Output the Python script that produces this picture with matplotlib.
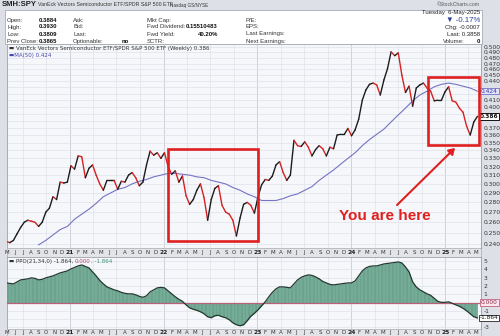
import matplotlib
matplotlib.use("Agg")
import matplotlib.pyplot as plt
import matplotlib.dates as mdates
from matplotlib.collections import LineCollection
from matplotlib.patches import Rectangle, FancyArrowPatch
from matplotlib.ticker import NullLocator, FixedFormatter, FixedLocator
import numpy as np
import pandas as pd

# SMH:SPY ratio, closes every two weeks (2020-04-28 .. 2025-05-06)
price = [
    0.242, 0.241, 0.243, 0.249, 0.255, 0.260, 0.262, 0.261, 0.260, 0.256,
    0.260, 0.270, 0.274, 0.286, 0.283, 0.302, 0.301, 0.302, 0.321, 0.317,
    0.333, 0.332, 0.307, 0.318, 0.322, 0.310, 0.300, 0.293, 0.304, 0.304,
    0.304, 0.294, 0.303, 0.302, 0.310, 0.313, 0.307, 0.298, 0.302, 0.322,
    0.339, 0.334, 0.337, 0.330, 0.337, 0.320, 0.311, 0.315, 0.302, 0.309,
    0.287, 0.278, 0.283, 0.293, 0.300, 0.285, 0.262, 0.283, 0.295, 0.298,
    0.277, 0.270, 0.268, 0.262, 0.247, 0.264, 0.278, 0.280, 0.277, 0.269,
    0.286, 0.299, 0.305, 0.304, 0.309, 0.322, 0.326, 0.313, 0.304, 0.310,
    0.353, 0.346, 0.345, 0.351, 0.344, 0.333, 0.341, 0.346, 0.342, 0.333,
    0.344, 0.342, 0.360, 0.361, 0.361, 0.369, 0.359, 0.367, 0.382, 0.410,
    0.426, 0.435, 0.437, 0.434, 0.418, 0.442, 0.461, 0.491, 0.484, 0.489,
    0.450, 0.422, 0.432, 0.401, 0.429, 0.434, 0.437, 0.429, 0.424, 0.409,
    0.410, 0.410, 0.423, 0.431, 0.409, 0.407, 0.398, 0.392, 0.372, 0.360,
    0.378, 0.386,
]

# 50-week moving average, every four weeks (starts at the 10th close)
ma50 = [
    0.239, 0.243, 0.248, 0.253, 0.256, 0.263, 0.268, 0.273, 0.279, 0.286,
    0.290, 0.294, 0.296, 0.300, 0.303, 0.305, 0.308, 0.310, 0.312, 0.312,
    0.311, 0.310, 0.308, 0.307, 0.304, 0.302, 0.300, 0.296, 0.293, 0.289,
    0.286, 0.282, 0.282, 0.282, 0.284, 0.287, 0.289, 0.293, 0.297, 0.304,
    0.310, 0.316, 0.323, 0.330, 0.337, 0.346, 0.354, 0.361, 0.368, 0.378,
    0.388, 0.398, 0.409, 0.418, 0.424, 0.431, 0.435, 0.437, 0.435, 0.432,
    0.429, 0.424,
]

# PPO(21,34,0), same dates as price
ppo = [
    2.37, 2.31, 2.25, 2.49, 2.73, 2.80, 2.86, 2.98, 2.92, 2.73,
    2.80, 2.98, 3.10, 3.22, 3.40, 3.58, 3.70, 3.82, 4.06, 4.24,
    4.42, 4.54, 4.36, 4.18, 3.70, 3.22, 2.67, 2.25, 1.89, 1.71,
    1.53, 1.41, 1.23, 1.11, 1.05, 1.05, 0.93, 0.75, 0.63, 0.81,
    1.29, 1.53, 1.77, 1.83, 1.77, 1.41, 1.05, 0.69, 0.39, 0.14,
    -0.28, -0.64, -0.82, -0.94, -1.12, -1.36, -1.72, -1.84, -1.60, -1.54,
    -1.72, -1.84, -2.08, -2.45, -2.69, -2.81, -2.69, -2.20, -1.66, -1.30,
    -0.88, -0.40, 0.08, 0.69, 1.23, 1.65, 1.89, 1.89, 1.83, 1.77,
    2.25, 2.73, 3.04, 3.22, 3.34, 3.28, 3.10, 2.86, 2.55, 2.37,
    2.19, 2.13, 2.19, 2.25, 2.31, 2.37, 2.37, 2.61, 3.22, 3.82,
    4.18, 4.36, 4.42, 4.42, 4.54, 4.66, 4.72, 4.78, 4.84, 4.90,
    4.78, 4.30, 3.70, 2.49, 1.89, 1.53, 1.29, 1.05, 0.87, 0.51,
    0.14, 0.02, 0.02, 0.08, -0.10, -0.28, -0.46, -0.70, -1.00, -1.36,
    -1.72, -1.864,
]

price_ticks = [round(0.24 + 0.01 * k, 3) for k in range(27)]
hidden_price_ticks = [0.38, 0.39, 0.42, 0.43]   # sit under the value boxes
ppo_ticks = [-3, -2, -1, 0, 1, 2, 3, 4, 5]
ppo_tick_labels = ["-3", "", "-1", "", "1", "2", "3", "4", "5"]

dates = pd.date_range(end="2025-05-06", periods=len(price), freq="14D")
ma_dates = dates[9::2]

W, H = 500, 336
BG = "#dde1e7"
PLOT_BG = "#f6f7fa"
GRID = "#dfe2ea"
SANS = ["Liberation Sans", "DejaVu Sans"]


def rect(l, t, r, b):
    return [l / W, 1 - b / H, (r - l) / W, (b - t) / H]


def ftext(px, py, s, **kw):
    kw.setdefault("va", "center")
    kw.setdefault("family", SANS)
    return fig.text(px / W, 1 - py / H, s, **kw)


fig = plt.figure(figsize=(5, 3.36), dpi=100, facecolor=BG)

# ---- header -------------------------------------------------------------
fig.add_artist(Rectangle((5 / W, 1 - 44 / H), 477 / W, 34 / H, transform=fig.transFigure,
                         facecolor="white", edgecolor="#9aa0aa", lw=0.5))
ftext(2, 5, "SMH:SPY", fontsize=5.6, weight="bold", color="#222")
ftext(38, 5, "VanEck Vectors Semiconductor ETF/SPDR S&P 500 ETF", fontsize=3.8, color="#333")
ftext(170, 5, "Nasdaq GS/NYSE", fontsize=3.3, color="#333")
ftext(480, 5, "©StockCharts.com", fontsize=3.7, color="#555", ha="right")

rows_y = [20.5, 27, 34, 41.5]
for y, lab, val in zip(rows_y, ["Open:", "High:", "Low:", "Prev Close:"],
                       ["0.3884", "0.3930", "0.3809", "0.3865"]):
    ftext(7, y, lab, fontsize=4.3, color="#333")
    ftext(57, y, val, fontsize=4.3, color="#111", weight="bold", ha="right")
for y, lab in zip(rows_y, ["Ask:", "Bid:", "Last:", "Optionable:"]):
    ftext(73, y, lab, fontsize=4.3, color="#333")
ftext(129, 41.5, "no", fontsize=4.3, weight="bold", ha="right", color="#111")
for y, lab in zip(rows_y, ["Mkt Cap:", "Fwd Dividend:", "Fwd Yield:", "SCTR:"]):
    ftext(147, y, lab, fontsize=4.3, color="#333")
ftext(218, 27, "0.15510483", fontsize=4.3, weight="bold", ha="right", color="#111")
ftext(218, 34, "40.20%", fontsize=4.3, weight="bold", ha="right", color="#111")
for y, lab in zip(rows_y, ["P/E:", "EPS:", "Last Earnings:", "Next Earnings:"]):
    ftext(246, y, lab, fontsize=4.3, color="#333")

ftext(480, 12.5, "Tuesday  6-May-2025", fontsize=4.3, ha="right", color="#222")
ftext(480, 20, "▼ -0.17%", fontsize=5.6, ha="right", color="#2a3f9a")
ftext(480, 27, "Chg: -0.0007", fontsize=4.3, ha="right", color="#222")
ftext(480, 34, "Last: 0.3858", fontsize=4.3, ha="right", color="#222")
ftext(443, 41.5, "Volume:", fontsize=4.3, color="#333")
ftext(480, 41.5, "0", fontsize=4.3, ha="right", weight="bold", color="#111")

# ---- axes ---------------------------------------------------------------
ax = fig.add_axes(rect(7, 44, 481, 248))
ax_d1 = fig.add_axes(rect(7, 248, 481, 257), sharex=ax)
ax_p = fig.add_axes(rect(7, 257, 481, 329), sharex=ax)
ax_d2 = fig.add_axes(rect(7, 329, 481, 336), sharex=ax)

x0, x1 = pd.Timestamp("2020-05-01"), pd.Timestamp("2025-05-20")
years = pd.date_range("2021-01-01", "2025-01-01", freq="YS")
quarters = pd.date_range("2020-07-01", "2025-04-01", freq="QS")

for a in (ax, ax_p):
    a.set_facecolor(PLOT_BG)
    a.set_xticks(years)
    a.set_xticks(quarters, minor=True)
    a.grid(True, which="minor", axis="x", color=GRID, lw=0.5)
    a.grid(True, which="major", axis="x", color="#c9cdd6", lw=0.6)
    a.grid(True, which="major", axis="y", color=GRID, lw=0.5)
    a.set_axisbelow(True)
    a.tick_params(axis="x", which="both", length=0, labelbottom=False)
    for s in a.spines.values():
        s.set_color("#8a9099")
        s.set_linewidth(0.5)
ax.set_xlim(x0, x1)

# main panel
ax.set_yscale("log")
ax.set_ylim(0.2362, 0.5056)
ax.yaxis.set_major_locator(FixedLocator(price_ticks))
ax.yaxis.set_major_formatter(FixedFormatter(
    ["" if v in hidden_price_ticks else f"{v:.3f}" for v in price_ticks]))
ax.yaxis.set_minor_locator(NullLocator())
ax.yaxis.tick_right()
ax.tick_params(axis="y", length=0, pad=2, labelsize=4.3, labelcolor="#333")

ax.plot(ma_dates, ma50, color="#7474c4", lw=0.8, zorder=2)
xs = mdates.date2num(dates)
pts = np.column_stack([xs, price])
segs = np.stack([pts[:-1], pts[1:]], axis=1)
cols = ["#1c1c1c" if b >= a else "#d42222" for a, b in zip(price[:-1], price[1:])]
ax.add_collection(LineCollection(segs, colors=cols, linewidths=1.0,
                                 capstyle="round", joinstyle="round", zorder=3))

ax.text(0.004, 0.992, "▬ VanEck Vectors Semiconductor ETF/SPDR S&P 500 ETF (Weekly) 0.386",
        transform=ax.transAxes, fontsize=4.0, va="top", color="#333", family="DejaVu Sans")
ax.text(0.004, 0.957, "▬MA(50) 0.424", transform=ax.transAxes, fontsize=4.0, va="top",
        color="#4646b0", family="DejaVu Sans")

# value boxes on the right axis, right-aligned so they stay inside the figure
xr = (498 - 7) / 474
yt = ax.get_yaxis_transform()
ax.text(xr, ma50[-1], f"{ma50[-1]:.3f}", transform=yt, fontsize=4.2, va="center", ha="right",
        color="#3535a8", clip_on=False,
        bbox=dict(boxstyle="square,pad=0.12", fc="#e4e4f7", ec="#5a5ac4", lw=0.5))
ax.text(xr, price[-1], f"{price[-1]:.3f}", transform=yt, fontsize=4.2, va="center", ha="right",
        color="#111", weight="bold", clip_on=False,
        bbox=dict(boxstyle="square,pad=0.12", fc="white", ec="#111", lw=0.7))

# annotations
red = "#e02020"
for bx0, by0, bx1, by1 in [(0.3403, 0.0343, 0.5302, 0.4853), (0.8888, 0.5049, 0.9964, 0.8397)]:
    ax.add_patch(Rectangle((bx0, by0), bx1 - bx0, by1 - by0, transform=ax.transAxes,
                           fill=False, ec=red, lw=1.9, zorder=5))
ax.add_patch(FancyArrowPatch((0.8186, 0.201), (0.9494, 0.50), transform=ax.transAxes,
                             arrowstyle="-|>,head_length=3.5,head_width=2.2",
                             color=red, lw=1.5, zorder=5))
ax.text(0.7975, 0.157, "You are here", transform=ax.transAxes, ha="center", va="center",
        fontsize=11, weight="bold", color=red, family=SANS, zorder=6)

# PPO panel
ax_p.set_ylim(-3.2, 5.5)
ax_p.yaxis.set_major_locator(FixedLocator(ppo_ticks))
ax_p.yaxis.set_major_formatter(FixedFormatter(ppo_tick_labels))
ax_p.yaxis.tick_right()
ax_p.tick_params(axis="y", length=0, pad=2, labelsize=4.3, labelcolor="#333")
ax_p.fill_between(dates, ppo, 0, color="#6aa38e", lw=0, zorder=2)
ax_p.vlines(dates, 0, ppo, color="#9fc8b8", lw=0.35, zorder=2)
ax_p.axhline(0, color="#b86078", lw=0.9, zorder=3)
ax_p.plot(dates, ppo, color="#23382f", lw=0.9, zorder=4)

pt = ax_p.get_yaxis_transform()
ax_p.text(xr, 0, "0.000", transform=pt, fontsize=4.2, va="center", ha="right", color="#8a2a48",
          clip_on=False, bbox=dict(boxstyle="square,pad=0.12", fc="#fae6ec", ec="#c06080", lw=0.6))
ax_p.text(xr, ppo[-1], f"{ppo[-1]:.3f}", transform=pt, fontsize=4.2, va="center", ha="right",
          color="#111", clip_on=False,
          bbox=dict(boxstyle="square,pad=0.12", fc="white", ec="#222", lw=0.6))

t1 = ax_p.text(0.004, 0.97, "▬ PPO(21,34,0) -1.864, ", transform=ax_p.transAxes, fontsize=4.0,
               va="top", color="#333", family="DejaVu Sans")
t2 = ax_p.annotate("0.000", xy=(1, 0), xycoords=t1, va="bottom", fontsize=4.0,
                   color="#b04060", family="DejaVu Sans")
ax_p.annotate(", -1.864", xy=(1, 0), xycoords=t2, va="bottom", fontsize=4.0,
              color="#3f8f75", family="DejaVu Sans")

# date strips
months = pd.date_range("2020-05-01", "2025-05-01", freq="MS")
for a in (ax_d1, ax_d2):
    a.set_facecolor("#e3e4e7")
    a.set_ylim(0, 1)
    a.set_yticks([])
    a.tick_params(axis="x", which="both", length=0, labelbottom=False)
    for s in a.spines.values():
        s.set_color("#9a9fa8")
        s.set_linewidth(0.4)
    for m in months:
        if m.month == 1:
            a.text(m, 0.45, f"{m.year % 100:02d}", ha="center", va="center", fontsize=4.3,
                   weight="bold", color="#222", family="DejaVu Sans")
        else:
            a.text(m, 0.45, m.strftime("%b")[0], ha="center", va="center", fontsize=4.0,
                   color="#333", family="DejaVu Sans")

fig.savefig("out.png", dpi=100, facecolor=BG)
